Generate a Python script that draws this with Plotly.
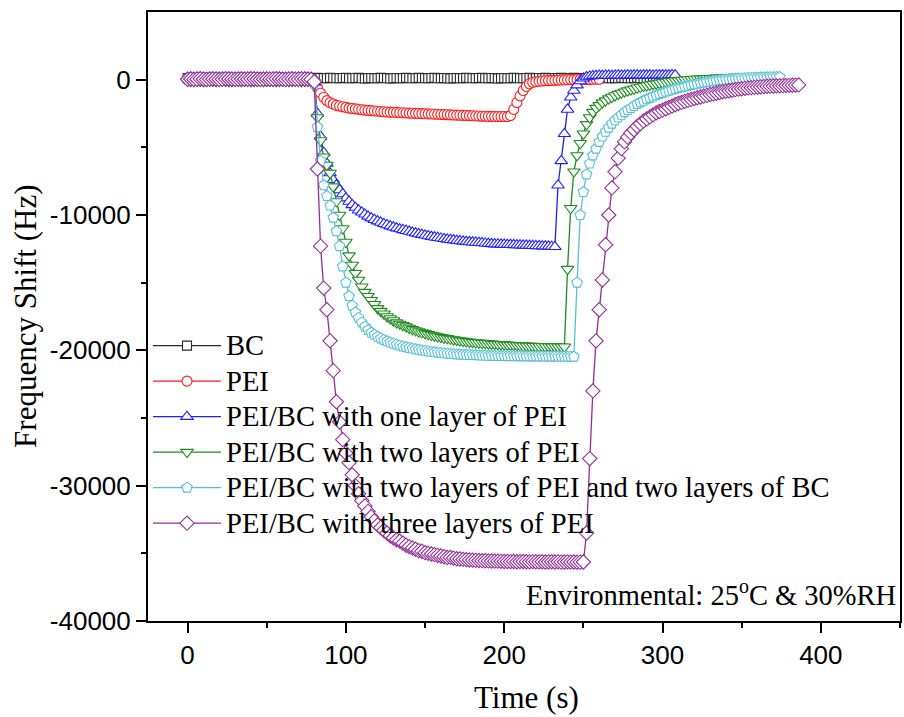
import plotly.graph_objects as go

# ---------------- data (sampled every 2 s, values in Hz) ----------------
STEP = 2

BC = [
    120, 100, 130, 110, 90, 120, 140, 110, 100, 120,      # t 0-18
    130, 110, 90, 100, 120, 130, 110, 100, 120, 110,      # t 20-38
    90, 110, 130, 120, 100, 90, 110, 120, 100, 110,       # t 40-58
    130, 120, 100, 90, 110, 120, 100, 110, 130, 120,      # t 60-78
    110, 130, 120, 100, 110, 130, 120, 110, 100, 120,     # t 80-98
    130, 110, 100, 120, 130, 110, 90, 110, 120, 100,      # t 100-118
    110, 130, 120, 100, 90, 110, 120, 100, 110, 130,      # t 120-138
    120, 100, 110, 130, 120, 110, 100, 120, 130, 110,     # t 140-158
    100, 120, 110, 90, 110, 120, 100, 110, 130, 120,      # t 160-178
    110, 100, 120, 130, 110, 100, 120, 110, 90, 110,      # t 180-198
    120, 100, 110, 130, 120, 110, 100, 120, 130, 110,     # t 200-218
    100, 120, 110, 130, 120, 100, 110, 120, 130, 110,     # t 220-238
    100, 120, 130, 110, 100, 120, 110, 130, 120, 100,     # t 240-258
    110, 120, 130, 110, 100, 120, 110, 130, 120, 110,     # t 260-278
    100, 120, 130, 110, 120, 100, 110, 130, 120, 110,     # t 280-298
    120,                                                  # t 300
]

PEI = [
    0, 20, 10, 0, 20, 30, 10, 0, 20, 10,                  # t 0-18
    0, 20, 30, 10, 0, 20, 10, 30, 20, 0,                  # t 20-38
    10, 20, 0, 30, 10, 20, 0, 10, 30, 20,                 # t 40-58
    0, 10, 20, 30, 10, 0, 20, 10, 0, 20,                  # t 60-78
    -100, -600, -1000, -1300, -1550, -1700, -1800, -1900, -1950, -2000,         # t 80-98
    -2050, -2100, -2130, -2160, -2190, -2220, -2250, -2270, -2290, -2310,       # t 100-118
    -2330, -2350, -2370, -2390, -2400, -2410, -2420, -2440, -2450, -2460,       # t 120-138
    -2470, -2480, -2490, -2500, -2510, -2520, -2530, -2540, -2550, -2560,       # t 140-158
    -2570, -2580, -2590, -2600, -2610, -2620, -2630, -2640, -2650, -2660,       # t 160-178
    -2670, -2680, -2690, -2700, -2700, -2710, -2710, -2720, -2720, -2720,       # t 180-198
    -2720, -2730, -2650, -2200, -1700, -1200, -800, -500, -300, -200,           # t 200-218
    -150, -120, -100, -80, -70, -60, -50, -40, -30, -20,                        # t 220-238
    -10, 0, 0, 10, 10, 20, 20, 20, 30, 30,                                      # t 240-258
    30,                                                                         # t 260
]

PEI_BC_ONE = [
    150, 170, 140, 160, 180, 150, 130, 160, 170, 150,     # t 0-18
    140, 160, 180, 170, 150, 140, 160, 170, 150, 160,     # t 20-38
    180, 170, 150, 140, 160, 170, 150, 160, 180, 170,     # t 40-58
    150, 140, 160, 170, 150, 160, 180, 170, 150, 140,     # t 60-78
    -200, -2500, -4200, -5400, -6200, -6900, -7400, -7800, -8150, -8450,        # t 80-98
    -8750, -9000, -9250, -9450, -9650, -9800, -9950, -10100, -10230, -10350,    # t 100-118
    -10450, -10550, -10650, -10740, -10820, -10900, -10970, -11040, -11100, -11160,  # t 120-138
    -11220, -11280, -11340, -11400, -11450, -11500, -11550, -11600, -11640, -11680,  # t 140-158
    -11720, -11760, -11800, -11830, -11860, -11890, -11920, -11950, -11970, -11990,  # t 160-178
    -12010, -12030, -12050, -12070, -12090, -12110, -12130, -12150, -12160, -12170,  # t 180-198
    -12180, -12190, -12200, -12210, -12220, -12230, -12240, -12250, -12260, -12270,  # t 200-218
    -12280, -12290, -12300, -12310, -12320, -12330, -12350, -7800, -6000, -4000,     # t 220-238
    -2200, -1300, -800, -400, -100, 100, 200, 250, 280, 300,                         # t 240-258
    310, 300, 320, 310, 300, 320, 330, 310, 320, 330,                                # t 260-278
    320, 330, 340, 320, 330, 340, 330, 320, 340, 330,                                # t 280-298
    340, 330, 340, 350, 340,                                                         # t 300-308
]

PEI_BC_TWO = [
    -80, -100, -120, -90, -110, -130, -100, -80, -110, -120,   # t 0-18
    -100, -90, -110, -130, -100, -80, -110, -120, -90, -100,   # t 20-38
    -120, -110, -90, -100, -130, -110, -80, -100, -120, -110,  # t 40-58
    -90, -100, -120, -110, -80, -100, -130, -110, -90, -100,   # t 60-78
    -200, -2800, -4500, -5700, -6300, -6900, -7900, -9000, -10000, -11000,      # t 80-98
    -12000, -13000, -13700, -14300, -14800, -15300, -15700, -16000, -16300, -16600,  # t 100-118
    -16900, -17100, -17300, -17500, -17650, -17800, -17950, -18050, -18150, -18250,  # t 120-138
    -18350, -18450, -18530, -18610, -18680, -18750, -18810, -18870, -18930, -18980,  # t 140-158
    -19030, -19080, -19120, -19160, -19200, -19240, -19280, -19310, -19340, -19370,  # t 160-178
    -19400, -19420, -19440, -19460, -19480, -19500, -19520, -19540, -19560, -19570,  # t 180-198
    -19580, -19600, -19610, -19620, -19640, -19650, -19660, -19670, -19680, -19690,  # t 200-218
    -19700, -19710, -19700, -19720, -19710, -19730, -19720, -19740, -19730, -19740,  # t 220-238
    -14000, -9500, -6800, -5600, -4700, -4000, -3300, -2800, -2400, -2100,           # t 240-258
    -1900, -1700, -1550, -1400, -1280, -1170, -1070, -980, -890, -810,               # t 260-278
    -740, -670, -600, -540, -480, -430, -380, -330, -290, -250,                      # t 280-298
    -210, -170, -140, -110, -80, -50, -30, -10, 10, 30,                              # t 300-318
    50, 70, 80, 90, 100, 110, 120, 130, 140, 150,                                    # t 320-338
    160, 170, 180, 190, 200, 200,                                                    # t 340-350
]

PEI_BC_TWO_TWO = [
    0, 20, -10, 10, 30, 0, -20, 10, 20, 0,                # t 0-18
    -10, 10, 30, 20, 0, -10, 10, 20, 0, 10,               # t 20-38
    30, 20, 0, -10, 10, 20, 0, 10, 30, 20,                # t 40-58
    0, -10, 10, 20, 0, 10, 30, 20, 0, -10,                # t 60-78
    -300, -3500, -6000, -7800, -8600, -9300, -10200, -11200, -12300, -13800,    # t 80-98
    -15000, -16000, -16700, -17200, -17600, -17950, -18250, -18500, -18700, -18850,  # t 100-118
    -19000, -19120, -19230, -19330, -19420, -19500, -19580, -19650, -19710, -19770,  # t 120-138
    -19820, -19870, -19920, -19960, -20000, -20040, -20080, -20110, -20140, -20170,  # t 140-158
    -20200, -20220, -20240, -20260, -20280, -20300, -20310, -20320, -20330, -20340,  # t 160-178
    -20350, -20360, -20370, -20380, -20390, -20400, -20400, -20410, -20410, -20420,  # t 180-198
    -20420, -20430, -20420, -20430, -20440, -20430, -20440, -20450, -20440, -20450,  # t 200-218
    -20450, -20440, -20450, -20460, -20450, -20460, -20450, -20460, -20470, -20460,  # t 220-238
    -20470, -20460, -20470, -15000, -10000, -8300, -7000, -6200, -5600, -5100,       # t 240-258
    -4600, -4200, -3850, -3550, -3250, -3000, -2800, -2600, -2400, -2250,            # t 260-278
    -2100, -1950, -1800, -1680, -1560, -1450, -1350, -1250, -1150, -1060,            # t 280-298
    -980, -900, -820, -750, -680, -620, -560, -500, -450, -400,                      # t 300-318
    -350, -300, -260, -220, -180, -140, -100, -70, -40, -10,                         # t 320-338
    10, 30, 50, 70, 90, 100, 110, 120, 130, 140,                                     # t 340-358
    150, 160, 170, 180, 185, 190, 195, 200,                                          # t 360-374
]

PEI_BC_THREE = [
    30, 50, 20, 40, 60, 30, 10, 40, 50, 30,               # t 0-18
    20, 40, 60, 50, 30, 20, 40, 50, 30, 40,               # t 20-38
    60, 50, 30, 20, 40, 50, 30, 40, 60, 50,               # t 40-58
    30, 20, 40, 50, 30, 40, 60, 50, 30, 20,               # t 60-78
    -150, -6600, -12300, -15400, -17000, -19300, -21500, -23800, -25300, -26600,     # t 80-98
    -27600, -28300, -29200, -30000, -30600, -31100, -31500, -31900, -32300, -32600,  # t 100-118
    -32900, -33100, -33300, -33500, -33700, -33850, -34000, -34100, -34250, -34400,  # t 120-138
    -34500, -34600, -34700, -34800, -34850, -34950, -35000, -35050, -35100, -35150,  # t 140-158
    -35200, -35250, -35300, -35300, -35350, -35400, -35420, -35450, -35470, -35490,  # t 160-178
    -35500, -35520, -35530, -35540, -35550, -35560, -35570, -35580, -35580, -35590,  # t 180-198
    -35600, -35600, -35610, -35600, -35620, -35610, -35600, -35620, -35630, -35610,  # t 200-218
    -35620, -35630, -35620, -35640, -35630, -35620, -35640, -35630, -35650, -35640,  # t 220-238
    -35630, -35650, -35640, -35660, -35650, -35640, -33500, -28000, -23000, -19300,  # t 240-258
    -17000, -14800, -12200, -10000, -8000, -6800, -5800, -5100, -4600, -4250,        # t 260-278
    -3950, -3700, -3450, -3250, -3050, -2900, -2750, -2600, -2450, -2350,            # t 280-298
    -2250, -2150, -2050, -1950, -1850, -1750, -1680, -1600, -1530, -1460,            # t 300-318
    -1400, -1340, -1280, -1220, -1160, -1100, -1050, -1000, -950, -900,              # t 320-338
    -860, -820, -780, -740, -700, -670, -640, -610, -590, -570,                      # t 340-358
    -550, -530, -510, -490, -480, -470, -460, -450, -440, -430,                      # t 360-378
    -420, -410, -400, -390,                                                          # t 380-386
]

SERIES_NAMES = [
    "BC",
    "PEI",
    "PEI/BC with one layer of PEI",
    "PEI/BC with two layers of PEI",
    "PEI/BC with two layers of PEI and two layers of BC",
    "PEI/BC with three layers of PEI",
]
SERIES_VALUES = [BC, PEI, PEI_BC_ONE, PEI_BC_TWO, PEI_BC_TWO_TWO, PEI_BC_THREE]

X_TICKS = [0, 100, 200, 300, 400]
X_TICK_LABELS = ["0", "100", "200", "300", "400"]
Y_TICKS = [0, -10000, -20000, -30000, -40000]
Y_TICK_LABELS = ["0", "-10000", "-20000", "-30000", "-40000"]

# ---------------- styling ----------------
COLORS = ["#2a2a2a", "#ff1a1a", "#1f1fff", "#1e8c1e", "#55c1d3", "#932e98"]
SYMBOLS = ["square", "circle", "triangle-up", "triangle-down", "pentagon", "diamond"]
SIZES = [9, 10, 11, 11, 11, 11]

SERIF = "Liberation Serif"
SANS = "Liberation Sans"

fig = go.Figure()
for name, vals, col, sym, sz in zip(SERIES_NAMES, SERIES_VALUES, COLORS, SYMBOLS, SIZES):
    t = list(range(0, STEP * len(vals), STEP))
    fig.add_trace(go.Scatter(
        x=t, y=vals, mode="lines+markers",
        name='<span style="font-size:28.6px">' + name + '</span>',
        line=dict(color=col, width=1.3),
        marker=dict(symbol=sym, size=sz, color="white",
                    line=dict(color=col, width=1.1)),
    ))

axis_common = dict(
    showline=True, linecolor="black", linewidth=2, mirror=True,
    ticks="outside", ticklen=10, tickwidth=2, tickcolor="black",
    showgrid=False, zeroline=False,
    tickfont=dict(family=SANS, size=26, color="black"),
)

fig.update_xaxes(
    range=[-25, 450], tickmode="array", tickvals=X_TICKS, ticktext=X_TICK_LABELS,
    minor=dict(ticks="outside", ticklen=5, tickwidth=2, tickcolor="black",
               tickmode="array", tickvals=[50, 150, 250, 350, 450]),
    **axis_common,
)
fig.update_yaxes(
    range=[-40000, 5000], tickmode="array", tickvals=Y_TICKS, ticktext=Y_TICK_LABELS,
    minor=dict(ticks="outside", ticklen=5, tickwidth=2, tickcolor="black",
               tickmode="array", tickvals=[-5000, -15000, -25000, -35000]),
    **axis_common,
)

fig.update_layout(
    width=904, height=717,
    margin=dict(l=148, r=2, t=12, b=96),
    paper_bgcolor="white", plot_bgcolor="white",
    showlegend=True,
    legend=dict(
        x=0.0, y=0.4895, xanchor="left", yanchor="top",
        bgcolor="rgba(0,0,0,0)", borderwidth=0,
        font=dict(family=SERIF, size=25, color="black"),
        itemwidth=68, tracegroupgap=0,
    ),
    annotations=[
        dict(text="Frequency Shift (Hz)", textangle=-90,
             xref="paper", yref="paper", x=-0.163, y=0.5,
             xanchor="center", yanchor="middle", showarrow=False,
             font=dict(family=SERIF, size=31, color="black")),
        dict(text="Time (s)",
             xref="paper", yref="paper", x=0.503, y=-0.125,
             xanchor="center", yanchor="middle", showarrow=False,
             font=dict(family=SERIF, size=31, color="black")),
        dict(text="Environmental: 25<sup>o</sup>C &amp; 30%RH",
             xref="paper", yref="paper", x=0.998, y=0.046,
             xanchor="right", yanchor="middle", showarrow=False,
             font=dict(family=SERIF, size=28.5, color="black")),
    ],
)

fig.write_html("out.html")
